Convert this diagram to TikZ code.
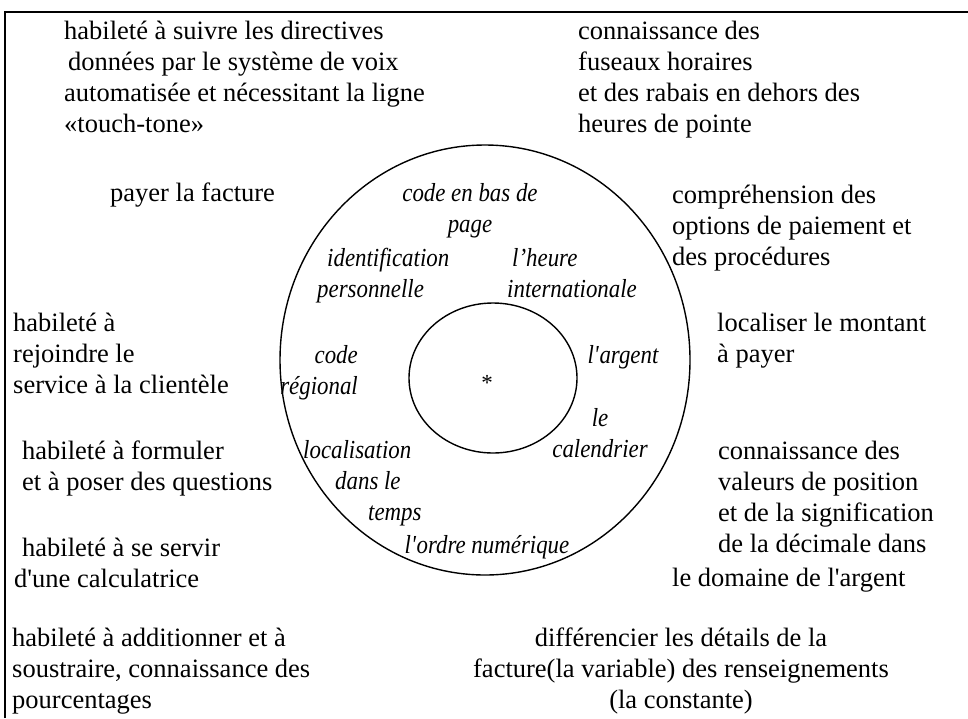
\documentclass[tikz,border=0pt]{standalone}
\usepackage{fontspec}
\setmainfont{Liberation Serif}
\newfontfamily\topicfont{Liberation Serif}[FakeStretch=0.88]
\begin{document}
\begin{tikzpicture}[x=1pt,y=-1pt,
  skill/.style={anchor=north west,inner sep=0pt,align=left,
    font=\fontsize{26.5}{31}\selectfont},
  topic/.style={inner sep=0pt,font=\fontsize{26}{31}\topicfont\itshape}]
  \useasboundingbox (0,0) rectangle (968,718);
  % cropped frame, only top and left edges show
  \draw[line width=1.6pt] (5,718) -- (5,12) -- (968,12);
  % the two rings
  \draw[line width=1.4pt] (485,360) ellipse [x radius=205,y radius=215];
  \draw[line width=1.4pt] (493,378) ellipse [x radius=84,y radius=75];
  \node[font=\fontsize{23}{23}\selectfont] (star) at (487,383) {*};
  % skills around the rings
  \node[skill] (tl) at (64,21)
    {habileté à suivre les directives\\
     \hspace*{4pt}données par le système de voix\\
     automatisée et nécessitant la ligne\\
     «touch-tone»};
  \node[skill] (tr) at (578,21)
    {connaissance des\\ fuseaux horaires\\
     et des rabais en dehors des\\ heures de pointe};
  \node[skill] (pay) at (110,183) {payer la facture};
  \node[skill] (comp) at (672,185)
    {compréhension des\\ options de paiement et\\ des procédures};
  \node[skill] (serv) at (13,313)
    {habileté à\\ rejoindre le\\ service à la clientèle};
  \node[skill] (loc) at (717,313) {localiser le montant\\ à payer};
  \node[skill] (quest) at (22,441)
    {habileté à formuler\\ et à poser des questions};
  \node[skill] (calc) at (14,538)
    {\hspace*{8pt}habileté à se servir\\ d\textquotesingle une calculatrice};
  \node[skill] (dec) at (718,441)
    {connaissance des\\ valeurs de position\\
     et de la signification\\ de la décimale dans};
  \node[skill] (dom) at (672,568) {le domaine de l\textquotesingle argent};
  \node[skill] (add) at (12,628)
    {habileté à additionner et à\\
     soustraire, connaissance des\\ pourcentages};
  \node[skill,anchor=north,align=center] (diff) at (681,628)
    {différencier les détails de la\\
     facture(la variable) des renseignements\\ (la constante)};
  % topics inside the outer ring
  \node[topic,anchor=north,align=center] (page) at (470,183)
    {code en bas de\\ page};
  \node[topic,anchor=north west,align=left] (ident) at (317,248)
    {\hspace*{10pt}identification\\ personnelle};
  \node[topic,anchor=north west,align=left] (heure) at (507,248)
    {\hspace*{5pt}l’heure\\ internationale};
  \node[topic,anchor=north east,align=right] (region) at (358,345)
    {code\\ régional};
  \node[topic,anchor=north] (argent) at (623,345)
    {l\textquotesingle argent};
  \node[topic,anchor=north,align=center] (cal) at (600,408)
    {le\\ calendrier};
  \node[topic,anchor=north west,align=left] (temps) at (303,440)
    {localisation\\ \hspace*{32pt}dans le\\ \hspace*{65pt}temps};
  \node[topic,anchor=north] (ordre) at (487,535)
    {l\textquotesingle ordre numérique};
\end{tikzpicture}
\end{document}
